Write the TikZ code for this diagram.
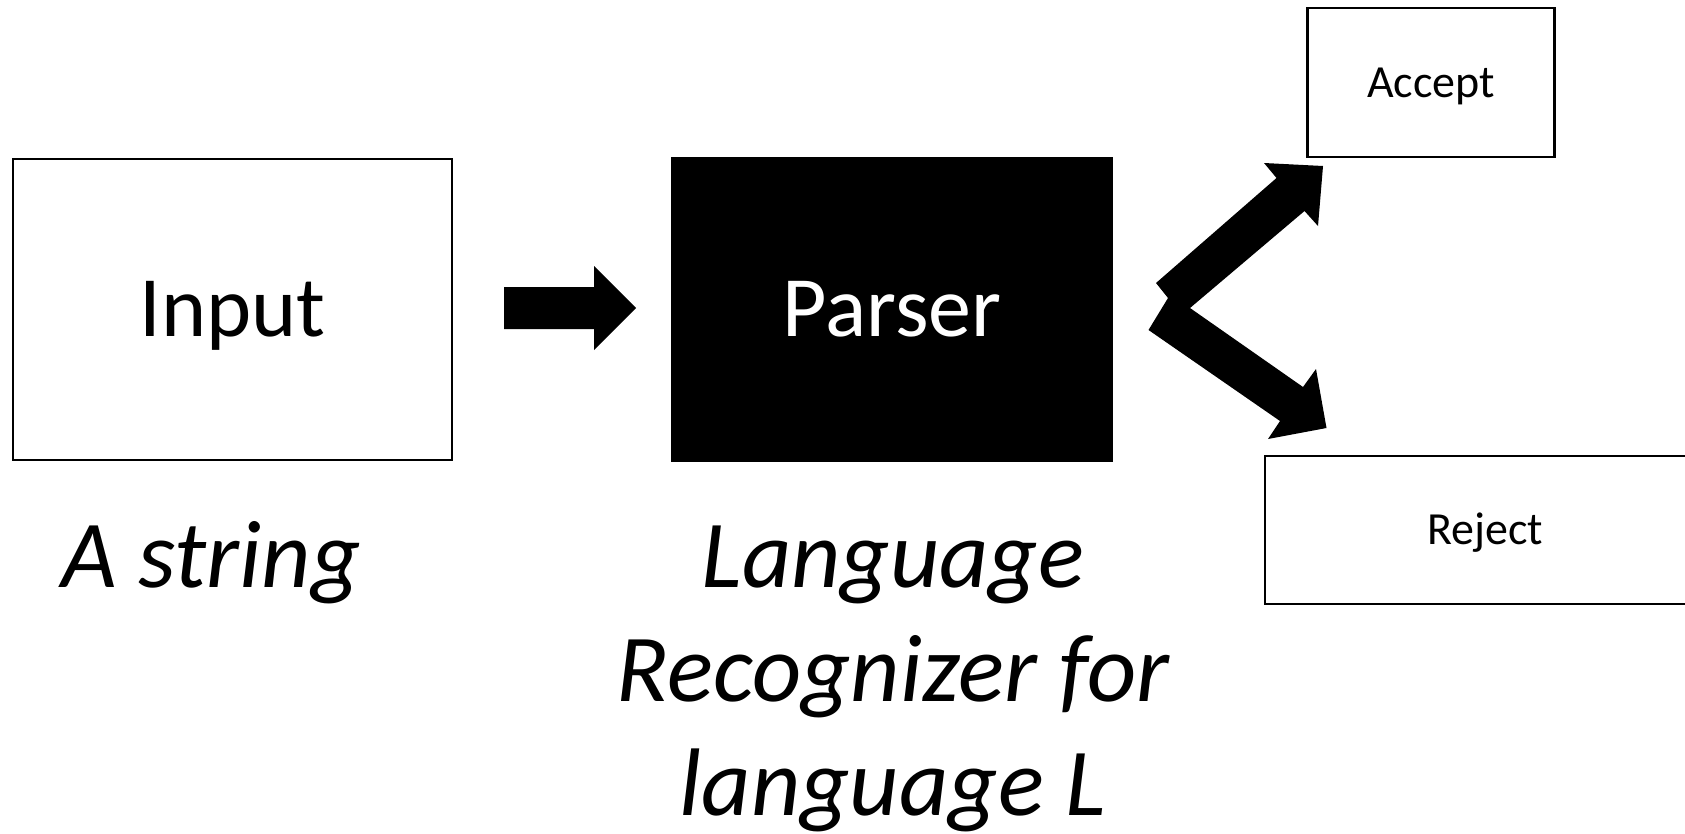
\documentclass[tikz,border=0pt]{standalone}
\usepackage{fontspec}
\setmainfont{Carlito}
\begin{document}
\begin{tikzpicture}[x=1pt,y=-1pt,
  box/.style={draw=black, line width=2.5pt, rectangle, inner sep=0pt, text depth=0pt},
  bigtext/.style={font=\fontsize{86}{100}\selectfont, text height=54pt},
  smalltext/.style={font=\fontsize{46}{55}\selectfont, text height=29pt},
  captext/.style={font=\fontsize{96}{114}\selectfont\itshape, inner sep=0pt},
  blockarrow/.style={fill=black}]
\useasboundingbox (0,0) rectangle (1685,833);
\node[box,bigtext,minimum width=439pt,minimum height=301pt] (input) at (232.5,309.5) {Input};
\node[box,bigtext,fill=black,text=white,minimum width=440pt,minimum height=303pt] (parser) at (892,309.5) {Parser};
\node[box,smalltext,minimum width=247pt,minimum height=149pt] (accept) at (1431,82.5) {Accept};
\node[box,smalltext,minimum width=440pt,minimum height=148pt] (reject) at (1485,530) {Reject};
% block arrow Input -> Parser
\fill[blockarrow] (504,287) -- (594,287) -- (594,266) -- (636,308) -- (594,350) -- (594,329) -- (504,329) -- cycle;
% bent double arrow Parser -> Accept / Reject
\fill[blockarrow] (1156,283) -- (1276.5,178) -- (1264,163) -- (1323,166) -- (1318,226) -- (1304.5,211)
  -- (1190,308) -- (1303,387) -- (1316,369) -- (1326.5,428) -- (1268,439) -- (1280,421)
  -- (1148.5,330) -- (1168,298) -- cycle;
\node[captext,anchor=base west] (astring) at (61,587) {A string};
\node[captext,align=center,anchor=base] (lang) at (893,815) {Language\\Recognizer for\\language L};
\end{tikzpicture}
\end{document}
